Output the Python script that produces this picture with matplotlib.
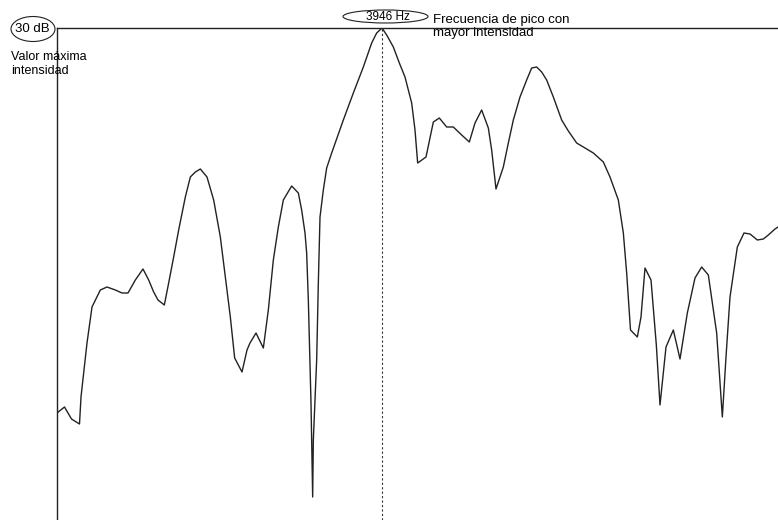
import matplotlib.pyplot as plt
from matplotlib.patches import Ellipse

plt.rcParams['font.family'] = ['Liberation Sans', 'DejaVu Sans']

freq_hz = [46, 136, 220, 316, 334, 366, 406, 466, 566, 646,
           746, 826, 898, 986, 1078, 1146, 1206, 1258, 1334, 1386,
           1446, 1506, 1586, 1646, 1706, 1766, 1846, 1926, 2006, 2066,
           2126, 2178, 2266, 2326, 2362, 2434, 2522, 2582, 2642, 2702,
           2762, 2862, 2942, 2982, 3022, 3042, 3062, 3082, 3094, 3102,
           3114, 3122, 3142, 3162, 3182, 3202, 3242, 3282, 3342, 3482,
           3602, 3722, 3822, 3882, 3946, 4002, 4082, 4154, 4222, 4302,
           4342, 4374, 4474, 4562, 4634, 4722, 4802, 4902, 4994, 5062,
           5142, 5222, 5262, 5314, 5402, 5462, 5522, 5602, 5682, 5742,
           5802, 5862, 5922, 6002, 6102, 6182, 6282, 6482, 6602, 6682,
           6782, 6842, 6882, 6928, 7010, 7054, 7102, 7174, 7238, 7282,
           7354, 7442, 7522, 7610, 7702, 7782, 7862, 7962, 8030, 8074,
           8122, 8210, 8290, 8362, 8450, 8522, 8582, 8662, 8698]
level_db = [-8.5, -7.9, -9.1, -9.6, -6.9, -4.5, -1.5, 2.1, 3.8, 4.1,
            3.8, 3.5, 3.5, 4.8, 5.9, 4.8, 3.6, 2.8, 2.3, 4.5,
            7.1, 9.8, 13.1, 15.1, 15.6, 15.9, 15.1, 12.8, 9.1, 5.1,
            1.1, -3.0, -4.4, -2.2, -1.5, -0.5, -2.0, 1.8, 6.8, 10.1,
            12.8, 14.2, 13.5, 11.8, 9.5, 7.5, 2.8, -3.9, -7.5, -11.2,
            -16.9, -11.2, -7.2, -3.2, 4.5, 11.1, 13.8, 16.0, 17.5, 20.8,
            23.5, 26.1, 28.5, 29.5, 30.0, 29.3, 28.1, 26.5, 25.1, 22.5,
            19.8, 16.5, 17.1, 20.6, 21.0, 20.1, 20.1, 19.3, 18.6, 20.5,
            21.8, 20.0, 17.8, 13.9, 16.1, 18.5, 20.8, 23.1, 24.8, 26.0,
            26.1, 25.6, 24.8, 23.1, 20.8, 19.7, 18.5, 17.5, 16.6, 15.1,
            12.8, 9.5, 5.5, -0.2, -0.9, 1.1, 6.0, 4.8, -1.7, -7.7,
            -1.9, -0.2, -3.1, 1.5, 5.0, 6.1, 5.3, -0.5, -8.9, -2.9,
            3.1, 8.1, 9.5, 9.4, 8.8, 8.9, 9.3, 9.9, 10.1]

peak_hz = 3946
max_db = 30

W, H = 778, 520
fig = plt.figure(figsize=(W / 100, H / 100), dpi=100)
ax = fig.add_axes([57 / W, 0, 721 / W, 492 / H])

ax.plot(freq_hz, level_db, color='#222222', lw=1.0)
ax.axvline(peak_hz, color='#333333', lw=0.8, ls=(0, (2, 2)))

ax.set_xlim(46, 8698)
ax.set_ylim(-19.2, max_db)
ax.set_xticks([])
ax.set_yticks([])
for side in ['bottom', 'right']:
    ax.spines[side].set_visible(False)
for side in ['left', 'top']:
    ax.spines[side].set_color('#222222')
    ax.spines[side].set_linewidth(1.0)


def px(x, y):
    # pixel position -> figure fraction
    return x / W, 1 - y / H


# ellipses around the labels
for (cx, cy, w, h) in [(33, 29, 44, 25), (385.5, 16.5, 85, 13)]:
    fig.add_artist(Ellipse(px(cx, cy), w / W, h / H, transform=fig.transFigure,
                           fc='white', ec='#222222', lw=0.8))

fig.text(*px(32, 28.5), f'{max_db} dB', ha='center', va='center', fontsize=9.5)
fig.text(*px(11, 64), 'Valor máxima\nintensidad', ha='left',
         va='center', fontsize=9, linespacing=1.2)
fig.text(*px(388, 16.5), f'{peak_hz} Hz', ha='center', va='center', fontsize=8.5)
fig.text(*px(433, 26.5), 'Frecuencia de pico con\nmayor intensidad',
         ha='left', va='center', fontsize=9.5, linespacing=1.15)

fig.savefig('out.png', dpi=100)
